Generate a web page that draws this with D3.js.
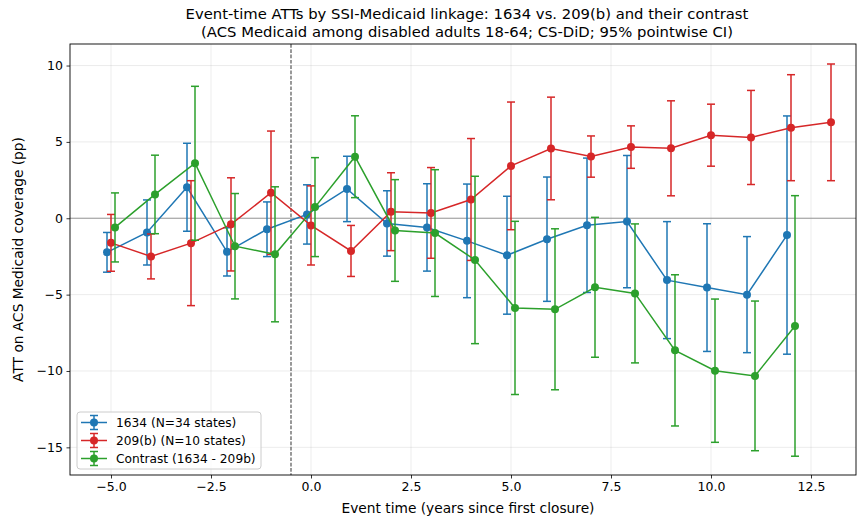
<!DOCTYPE html>
<html>
<head>
<meta charset="utf-8">
<script src="https://cdn.jsdelivr.net/npm/d3@7"></script>
<style>
  html, body { margin: 0; padding: 0; background: #fff; }
  svg { display: block; font-family: "DejaVu Sans", sans-serif; }
</style>
</head>
<body>
<svg id="chart" width="857" height="521"></svg>
<script>
// Event times (years since first closure)
const eventTimes1634 = [-5, -4, -3, -2, -1, 0, 1, 2, 3, 4, 5, 6, 7, 8, 9, 10, 11, 12];
const eventTimes209b = [-5, -4, -3, -2, -1, 0, 1, 2, 3, 4, 5, 6, 7, 8, 9, 10, 11, 12, 13];
const eventTimesContrast = [-5, -4, -3, -2, -1, 0, 1, 2, 3, 4, 5, 6, 7, 8, 9, 10, 11, 12];

// Point estimates (pp) and 95% CI half-widths
const att1634 = [-2.23, -0.93, 2.03, -2.2, -0.72, 0.25, 1.92, -0.34, -0.6, -1.48, -2.42, -1.37, -0.46, -0.22, -4.05, -4.54, -5.0, -1.1];
const ci1634 = [1.3, 2.13, 2.88, 1.58, 1.79, 1.94, 2.14, 2.14, 2.86, 3.72, 3.86, 4.07, 4.4, 4.33, 3.83, 4.18, 3.8, 7.8];

const att209b = [-1.61, -2.5, -1.63, -0.4, 1.67, -0.47, -2.14, 0.43, 0.35, 1.23, 3.43, 4.57, 4.04, 4.66, 4.58, 5.44, 5.29, 5.93, 6.28];
const ci209b = [1.86, 1.47, 4.09, 3.05, 4.04, 2.59, 1.67, 2.55, 2.97, 3.99, 4.18, 3.36, 1.35, 1.39, 3.11, 2.03, 3.08, 3.47, 3.82];

const attContrast = [-0.6, 1.56, 3.6, -1.83, -2.36, 0.73, 4.03, -0.8, -0.97, -2.73, -5.87, -5.96, -4.52, -4.92, -8.65, -9.98, -10.32, -7.05];
const ciContrast = [2.26, 2.57, 5.04, 3.45, 4.42, 3.24, 2.68, 3.33, 4.15, 5.48, 5.67, 5.27, 4.58, 4.55, 4.95, 4.69, 4.9, 8.53];

// Axis ticks
const xTicks = [-5, -2.5, 0, 2.5, 5, 7.5, 10, 12.5];
const yTicks = [-15, -10, -5, 0, 5, 10];

const titleLines = [
  "Event-time ATTs by SSI-Medicaid linkage: 1634 vs. 209(b) and their contrast",
  "(ACS Medicaid among disabled adults 18-64; CS-DiD; 95% pointwise CI)"
];
const xLabel = "Event time (years since first closure)";
const yLabel = "ATT on ACS Medicaid coverage (pp)";
const treatmentLine = -0.5;

const series = [
  { name: "1634 (N=34 states)", color: "#1f77b4", offset: -0.1, t: eventTimes1634, est: att1634, ci: ci1634 },
  { name: "209(b) (N=10 states)", color: "#d62728", offset: 0, t: eventTimes209b, est: att209b, ci: ci209b },
  { name: "Contrast (1634 - 209b)", color: "#2ca02c", offset: 0.1, t: eventTimesContrast, est: attContrast, ci: ciContrast }
];

const svg = d3.select("#chart");
const plot = { left: 70, right: 856, top: 44, bottom: 475 };

const x = d3.scaleLinear().domain([-6.025, 13.625]).range([plot.left, plot.right]);
const y = d3.scaleLinear().domain([-16.81, 11.41]).range([plot.bottom, plot.top]);

const minus = s => s.replace("-", "\u2212");

// Grid
const grid = svg.append("g").attr("stroke", "#b0b0b0").attr("stroke-opacity", 0.3).attr("stroke-width", 0.8);
xTicks.forEach(v => grid.append("line").attr("x1", x(v)).attr("x2", x(v)).attr("y1", plot.top).attr("y2", plot.bottom));
yTicks.forEach(v => grid.append("line").attr("x1", plot.left).attr("x2", plot.right).attr("y1", y(v)).attr("y2", y(v)));

// Reference lines: zero effect and treatment onset
svg.append("line")
  .attr("x1", plot.left).attr("x2", plot.right)
  .attr("y1", y(0)).attr("y2", y(0))
  .attr("stroke", "#999").attr("stroke-width", 1.1);
svg.append("line")
  .attr("x1", x(treatmentLine)).attr("x2", x(treatmentLine))
  .attr("y1", plot.top).attr("y2", plot.bottom)
  .attr("stroke", "#555").attr("stroke-width", 1.2).attr("stroke-dasharray", "3.7,1.6");

// Series with error bars
const capHalf = 4;
series.forEach(s => {
  const pts = s.t.map((t, i) => ({ x: t + s.offset, est: s.est[i], lo: s.est[i] - s.ci[i], hi: s.est[i] + s.ci[i] }));
  const g = svg.append("g");
  const eb = g.append("g").attr("stroke", s.color).attr("stroke-width", 1.5);
  pts.forEach(p => {
    eb.append("line").attr("x1", x(p.x)).attr("x2", x(p.x)).attr("y1", y(p.lo)).attr("y2", y(p.hi));
    eb.append("line").attr("x1", x(p.x) - capHalf).attr("x2", x(p.x) + capHalf).attr("y1", y(p.lo)).attr("y2", y(p.lo));
    eb.append("line").attr("x1", x(p.x) - capHalf).attr("x2", x(p.x) + capHalf).attr("y1", y(p.hi)).attr("y2", y(p.hi));
  });
  g.append("path")
    .attr("d", d3.line().x(p => x(p.x)).y(p => y(p.est))(pts))
    .attr("fill", "none").attr("stroke", s.color).attr("stroke-width", 1.5);
  g.selectAll("circle").data(pts).join("circle")
    .attr("cx", p => x(p.x)).attr("cy", p => y(p.est)).attr("r", 4)
    .attr("fill", s.color);
});

// Axes
const xAxis = d3.axisBottom(x).tickValues(xTicks).tickSize(3.5).tickPadding(3.5)
  .tickFormat(v => minus(d3.format(".1f")(v)));
const yAxis = d3.axisLeft(y).tickValues(yTicks).tickSize(3.5).tickPadding(3.5)
  .tickFormat(v => minus(d3.format("d")(v)));

const gx = svg.append("g").attr("transform", `translate(0,${plot.bottom})`).call(xAxis);
const gy = svg.append("g").attr("transform", `translate(${plot.left},0)`).call(yAxis);
[gx, gy].forEach(g => {
  g.select(".domain").remove();
  g.selectAll(".tick line").attr("stroke", "#000").attr("stroke-width", 0.8);
  g.selectAll(".tick text").attr("fill", "#000").style("font-size", "12.5px").style("font-family", "DejaVu Sans");
});

// Frame
svg.append("rect")
  .attr("x", plot.left).attr("y", plot.top)
  .attr("width", plot.right - plot.left).attr("height", plot.bottom - plot.top)
  .attr("fill", "none").attr("stroke", "#000").attr("stroke-width", 0.9);

// Titles and axis labels
const cx = (plot.left + plot.right) / 2;
svg.append("text").attr("x", cx + 4).attr("y", 19.2).attr("text-anchor", "middle")
  .style("font-size", "14.8px").text(titleLines[0]);
svg.append("text").attr("x", cx + 4).attr("y", 37).attr("text-anchor", "middle")
  .style("font-size", "14.8px").text(titleLines[1]);
svg.append("text").attr("x", cx + 5).attr("y", 512.5).attr("text-anchor", "middle")
  .style("font-size", "13.75px").text(xLabel);
svg.append("text").attr("transform", `translate(23,${(plot.top + plot.bottom) / 2}) rotate(-90)`)
  .attr("text-anchor", "middle").style("font-size", "13.75px").text(yLabel);

// Legend
const leg = svg.append("g").attr("transform", "translate(77,412)");
leg.append("rect").attr("width", 184).attr("height", 57).attr("rx", 3)
  .attr("fill", "#fff").attr("fill-opacity", 0.8).attr("stroke", "#ccc").attr("stroke-width", 1);
series.forEach((s, i) => {
  const yy = 10.5 + i * 18;
  const row = leg.append("g").attr("transform", `translate(0,${yy})`);
  row.append("line").attr("x1", 4).attr("x2", 30).attr("y1", 0).attr("y2", 0)
    .attr("stroke", s.color).attr("stroke-width", 1.5);
  row.append("line").attr("x1", 17).attr("x2", 17).attr("y1", -7).attr("y2", 7)
    .attr("stroke", s.color).attr("stroke-width", 1.5);
  row.append("line").attr("x1", 13).attr("x2", 21).attr("y1", -7).attr("y2", -7)
    .attr("stroke", s.color).attr("stroke-width", 1.5);
  row.append("line").attr("x1", 13).attr("x2", 21).attr("y1", 7).attr("y2", 7)
    .attr("stroke", s.color).attr("stroke-width", 1.5);
  row.append("circle").attr("cx", 17).attr("cy", 0).attr("r", 4).attr("fill", s.color);
  row.append("text").attr("x", 39).attr("y", 4.3).style("font-size", "12.2px").text(s.name);
});
</script>
</body>
</html>
